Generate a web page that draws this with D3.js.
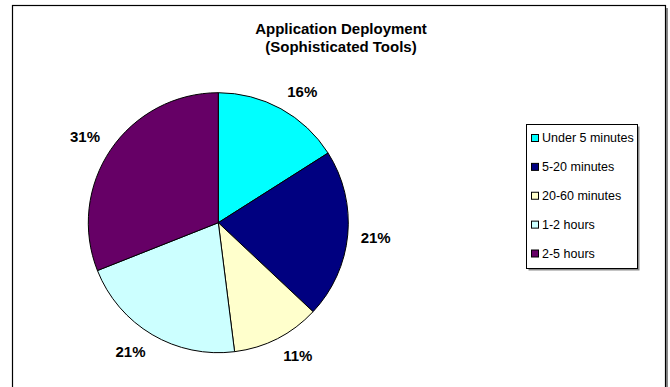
<!DOCTYPE html>
<html>
<head>
<meta charset="utf-8">
<script src="https://cdn.jsdelivr.net/npm/d3@7"></script>
<style>
  html, body { margin: 0; padding: 0; background: #fff; }
  svg { display: block; font-family: "Liberation Sans", Arial, sans-serif; }
</style>
</head>
<body>
<svg id="chart" width="670" height="387"></svg>
<script>
// Chart data
const titleLines = ["Application Deployment", "(Sophisticated Tools)"];
const categories = ["Under 5 minutes", "5-20 minutes", "20-60 minutes", "1-2 hours", "2-5 hours"];
const shares = [16, 21, 11, 21, 31];
const sliceColors = ["#00FFFF", "#000080", "#FFFFCC", "#CCFFFF", "#660066"];

const svg = d3.select("#chart");

// Chart area frame with a soft shadow on the right
svg.append("rect")
  .attr("x", 665.5).attr("y", 8).attr("width", 2.5).attr("height", 400)
  .attr("fill", "#8a8a8a");
svg.append("rect")
  .attr("x", 12.5).attr("y", 5.5).attr("width", 653).attr("height", 400)
  .attr("fill", "#fff").attr("stroke", "#000").attr("stroke-width", 1.2);

// Title
svg.append("text")
  .attr("x", 341).attr("text-anchor", "middle")
  .attr("font-size", 15).attr("font-weight", "bold").attr("fill", "#000")
  .selectAll("tspan").data(titleLines).join("tspan")
  .attr("x", 341)
  .attr("y", (d, i) => 33.5 + i * 18)
  .text(d => d);

// Pie
const cx = 218.3, cy = 222.7, r = 130;
const pie = d3.pie().sort(null).value(d => d);
const arcs = pie(shares);
const arc = d3.arc().innerRadius(0).outerRadius(r);

const g = svg.append("g").attr("transform", `translate(${cx},${cy})`);
g.selectAll("path.slice").data(arcs).join("path")
  .attr("class", "slice")
  .attr("d", arc)
  .attr("fill", (d, i) => sliceColors[i])
  .attr("stroke", "#000")
  .attr("stroke-width", 1)
  .attr("stroke-linejoin", "round");

// Percentage labels: the label box corner nearest the pie sits on a
// ring just outside the slice's mid-angle
const pct = d3.format(".0f");
const labelRing = r + 13;
const clamp = v => Math.max(-1, Math.min(1, v));
const labels = g.selectAll("text.pct").data(arcs).join("text")
  .attr("class", "pct")
  .attr("font-size", 15).attr("font-weight", "bold").attr("fill", "#000")
  .attr("text-anchor", "middle")
  .attr("dy", "0.35em")
  .text(d => pct(d.data) + "%");

labels.each(function(d) {
  const a = (d.startAngle + d.endAngle) / 2;
  const bb = this.getBBox();
  const ux = Math.sin(a), uy = -Math.cos(a);
  const halfW = bb.width / 2, halfH = 5.5;
  const x = labelRing * ux + halfW * clamp(ux * 4);
  const y = labelRing * uy + halfH * clamp(uy * 4);
  d3.select(this).attr("x", x).attr("y", y);
});

// Legend
const lgX = 526.5, lgY = 124.5, lgW = 111, lgH = 144;
svg.append("rect")
  .attr("x", lgX + 2).attr("y", lgY + 2).attr("width", lgW).attr("height", lgH)
  .attr("fill", "#8a8a8a");
svg.append("rect")
  .attr("x", lgX).attr("y", lgY).attr("width", lgW).attr("height", lgH)
  .attr("fill", "#fff").attr("stroke", "#000").attr("stroke-width", 1);

const rowY = d3.scalePoint().domain(categories).range([138, 253.5]);
const items = svg.append("g").selectAll("g").data(categories).join("g")
  .attr("transform", d => `translate(0,${rowY(d)})`);
items.append("rect")
  .attr("x", 531.5).attr("y", -3.5).attr("width", 7).attr("height", 7)
  .attr("fill", (d, i) => sliceColors[i])
  .attr("stroke", "#000").attr("stroke-width", 1);
items.append("text")
  .attr("x", 542).attr("dy", "0.35em")
  .attr("font-size", 12.5).attr("fill", "#000")
  .text(d => d);
</script>
</body>
</html>
